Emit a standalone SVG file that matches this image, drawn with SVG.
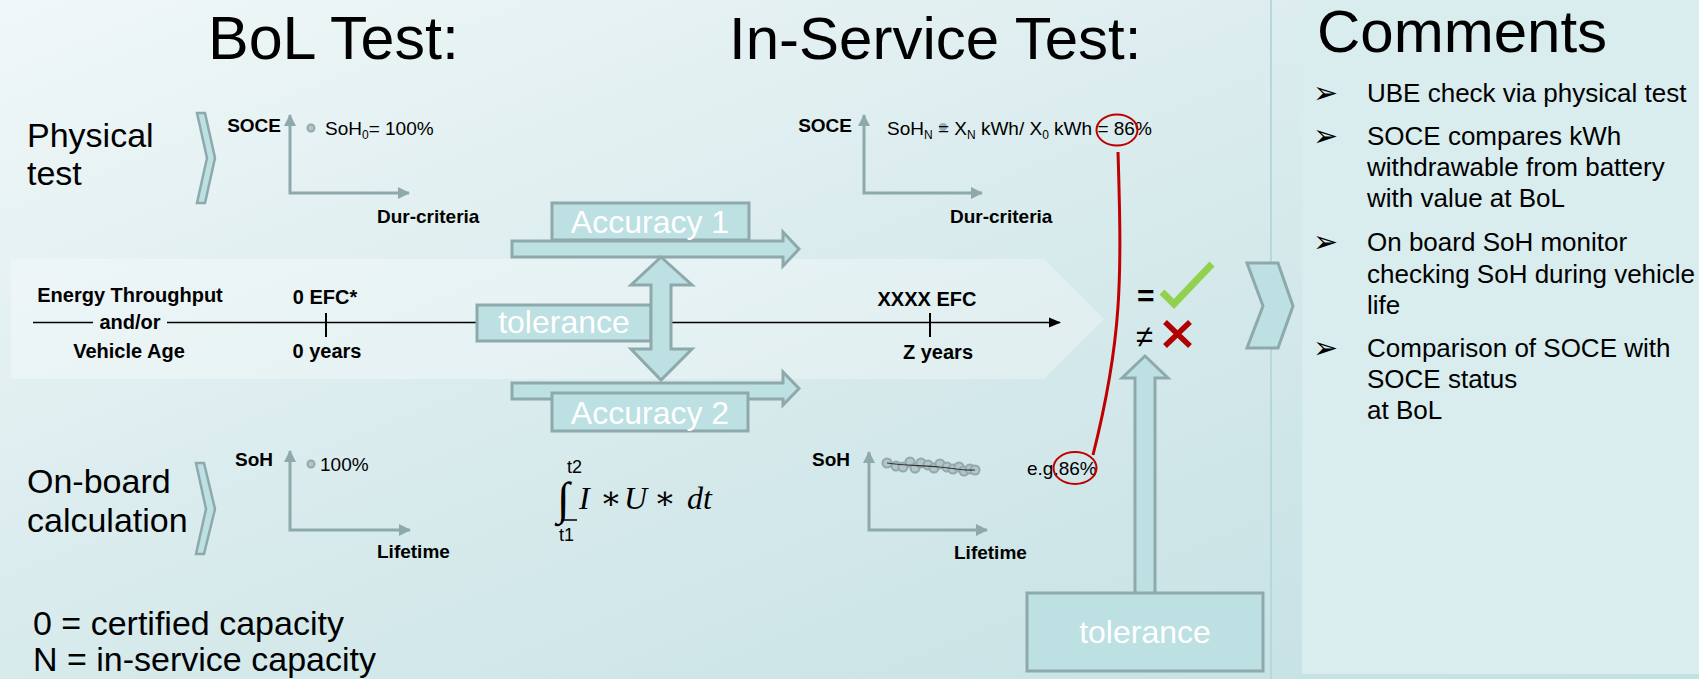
<svg xmlns="http://www.w3.org/2000/svg" width="1699" height="679" viewBox="0 0 1699 679">
<defs>
<linearGradient id="bg" x1="0" y1="0" x2="1" y2="1">
<stop offset="0" stop-color="#f0f7f8"/>
<stop offset="0.5" stop-color="#d7eaec"/>
<stop offset="1" stop-color="#c3e0e3"/>
</linearGradient>
<marker id="ga" markerUnits="userSpaceOnUse" markerWidth="12" markerHeight="12" viewBox="0 0 12 12" refX="11" refY="6" orient="auto-start-reverse">
<path d="M0,0 L12,6 L0,12 z" fill="#8ea9ac"/>
</marker>
<marker id="ka" markerUnits="userSpaceOnUse" markerWidth="12" markerHeight="12" viewBox="0 0 12 12" refX="11" refY="6" orient="auto">
<path d="M0,1 L12,6 L0,11 z" fill="#000"/>
</marker>
</defs>
<style>
text{font-family:"Liberation Sans",Arial,sans-serif;fill:#000}
.title{font-size:60px}
.lbl{font-size:34px}
.cap{font-size:34px}
.b{font-weight:bold;font-size:19px}
.tb{font-weight:bold;font-size:20px}
.s{font-size:19px}
.sub{font-size:12px}
.box{fill:#bde0e3;stroke:#8ea9ac;stroke-width:3}
.wt{fill:#fff;font-size:32px}
.axis{stroke:#8ea9ac;stroke-width:3;fill:none}
.com{font-size:26px}
.bul{font-family:"DejaVu Sans",sans-serif;font-size:30px}
.dot{fill:#b3c6c8;stroke:#93a9ab;stroke-width:2}
.red{stroke:#c00000;stroke-width:2;fill:none}
.math{font-family:"Liberation Serif","DejaVu Serif",serif;font-style:italic;font-size:32px}
</style>

<rect width="1699" height="679" fill="url(#bg)"/>
<rect x="1302" y="0" width="397" height="674" fill="#d9ecee"/>
<line x1="1271" y1="0" x2="1271" y2="679" stroke="#b6d8dc" stroke-width="2"/>

<!-- middle band -->
<polygon id="band" points="11,259 1044,259 1104,319 1044,379 11,379" fill="#ffffff" fill-opacity="0.3"/>

<g id="titles">
<text class="title" x="208" y="59" style="font-size:61px">BoL Test:</text>
<text class="title" x="729" y="59">In-Service Test:</text>
<text class="title" x="1317" y="52">Comments</text>
</g>

<g id="physical-test">
<text class="lbl" x="27" y="147">Physical</text>
<text class="lbl" x="27" y="185">test</text>
<polygon class="box" style="stroke-width:2.5" points="197,113 205,113 215,158 205,203 197,203 207,158"/>
</g>

<g id="onboard-calc">
<text class="lbl" x="27" y="493">On-board</text>
<text class="lbl" x="27" y="532">calculation</text>
<polygon class="box" style="stroke-width:2.5" points="196,463 204,463 215,509 204,554 196,554 206,509"/>
</g>

<g id="chart-bol-soce">
<path class="axis" d="M290,115 L290,193 L409,193" marker-start="url(#ga)" marker-end="url(#ga)"/>
<text class="b" x="281" y="132" text-anchor="end">SOCE</text>
<circle class="dot" cx="311" cy="128" r="3.5"/>
<text class="s" x="325" y="135">SoH<tspan class="sub" dy="4">0</tspan><tspan dy="-4">= 100%</tspan></text>
<text class="b" x="377" y="223">Dur-criteria</text>
</g>

<g id="chart-bol-soh">
<path class="axis" d="M290,451 L290,530 L410,530" marker-start="url(#ga)" marker-end="url(#ga)"/>
<text class="b" x="273" y="466" text-anchor="end">SoH</text>
<circle class="dot" cx="311" cy="464" r="3.5"/>
<text class="s" x="320" y="471">100%</text>
<text class="b" x="377" y="558">Lifetime</text>
</g>

<g id="chart-is-soce">
<path class="axis" d="M864,115 L864,193 L982,193" marker-start="url(#ga)" marker-end="url(#ga)"/>
<text class="b" x="852" y="132" text-anchor="end">SOCE</text>
<circle cx="943" cy="127" r="4" fill="#9aafb1"/>
<text class="s" x="887" y="135">SoH<tspan class="sub" dy="4">N</tspan><tspan dy="-4"> = X</tspan><tspan class="sub" dy="4">N</tspan><tspan dy="-4"> kWh/ X</tspan><tspan class="sub" dy="4">0</tspan><tspan dy="-4"> kWh = 86%</tspan></text>
<ellipse class="red" cx="1117" cy="130" rx="20.5" ry="15.5"/>
<text class="b" x="950" y="223">Dur-criteria</text>
</g>

<g id="chart-is-soh">
<path class="axis" d="M869,452 L869,530 L987,530" marker-start="url(#ga)" marker-end="url(#ga)"/>
<text class="b" x="850" y="466" text-anchor="end">SoH</text>
<g>
<circle class="dot" cx="887" cy="463" r="4.5"/>
<circle class="dot" cx="896" cy="466" r="4.5"/>
<circle class="dot" cx="903" cy="467" r="4.5"/>
<circle class="dot" cx="910" cy="462" r="4.5"/>
<circle class="dot" cx="915" cy="468" r="4.5"/>
<circle class="dot" cx="921" cy="463" r="4.5"/>
<circle class="dot" cx="928" cy="465" r="4.5"/>
<circle class="dot" cx="934" cy="468" r="4.5"/>
<circle class="dot" cx="940" cy="464" r="4.5"/>
<circle class="dot" cx="947" cy="467" r="4.5"/>
<circle class="dot" cx="953" cy="469" r="4.5"/>
<circle class="dot" cx="959" cy="467" r="4.5"/>
<circle class="dot" cx="964" cy="471" r="4.5"/>
<circle class="dot" cx="970" cy="469" r="4.5"/>
<circle class="dot" cx="975" cy="470" r="4.5"/>
</g>
<path d="M887,463 C905,466 920,465 940,467 C955,468 960,471 975,470" stroke="#333" stroke-width="1.2" fill="none"/>
<text class="b" x="954" y="559">Lifetime</text>
<text class="s" x="1027" y="475">e.g.86%</text>
<ellipse class="red" cx="1075" cy="468" rx="21.5" ry="16"/>
</g>

<g id="timeline">
<text class="tb" x="130" y="302" text-anchor="middle">Energy Throughput</text>
<text class="tb" x="130" y="329" text-anchor="middle">and/or</text>
<text class="tb" x="129" y="358" text-anchor="middle">Vehicle Age</text>
<text class="tb" x="325" y="304" text-anchor="middle">0 EFC*</text>
<text class="tb" x="327" y="358" text-anchor="middle">0 years</text>
<text class="tb" x="927" y="306" text-anchor="middle">XXXX EFC</text>
<text class="tb" x="938" y="359" text-anchor="middle">Z years</text>
</g>

<g id="connectors">
<line x1="33" y1="322.5" x2="93" y2="322.5" stroke="#000" stroke-width="1.6"/>
<line x1="167" y1="322.5" x2="1060" y2="322.5" stroke="#000" stroke-width="1.6" marker-end="url(#ka)"/>
<line x1="326" y1="313" x2="326" y2="337" stroke="#000" stroke-width="2"/>
<line x1="930" y1="313" x2="930" y2="337" stroke="#000" stroke-width="2"/>
<path class="red" style="stroke-width:3" d="M1118,152 C1122,280 1122,340 1093,455"/>
</g>

<g id="accuracy1">
<polygon class="box" points="512,241 783,241 783,232 799,249 783,266 783,257 512,257"/>
<rect class="box" x="552" y="203" width="197" height="37"/>
<text class="wt" x="650" y="233" text-anchor="middle">Accuracy 1</text>
</g>

<g id="accuracy2">
<polygon class="box" points="512,383 783,383 783,372 799,388.5 783,405 783,399 512,399"/>
<rect class="box" x="552" y="393" width="196" height="38"/>
<text class="wt" x="650" y="424" text-anchor="middle">Accuracy 2</text>
</g>

<g id="tolerance-mid">
<rect class="box" x="477" y="305" width="174" height="36"/>
<text class="wt" x="564" y="333" text-anchor="middle">tolerance</text>
<polygon class="box" points="661,257 692,285 671,285 671,349 692,349 661,380 631,349 651,349 651,285 631,285"/>
</g>

<g id="result">
<text x="1137" y="306" style="font-size:30px;font-weight:bold">=</text>
<polyline points="1162,292 1174,304 1212,264" fill="none" stroke="#92d050" stroke-width="7"/>
<text x="1136" y="347" style="font-size:31px">≠</text>
<path d="M1165,322 L1190,346 M1190,322 L1165,346" stroke="#b00000" stroke-width="5.5"/>
</g>

<g id="tolerance-bottom">
<polygon class="box" points="1145,356 1168,378 1155,378 1155,594 1135,594 1135,378 1122,378"/>
<rect class="box" x="1027" y="593" width="236" height="78"/>
<text class="wt" x="1145" y="643" text-anchor="middle">tolerance</text>
</g>

<g id="chevron-right">
<polygon class="box" points="1247,263 1278,263 1293,306 1278,348 1247,348 1263,306"/>
</g>

<g id="integral">
<text x="567" y="473" style="font-size:18px">t2</text>
<text x="557" y="514" style="font-family:'Liberation Serif','DejaVu Serif',serif;font-size:46px">∫</text>
<line x1="561" y1="520" x2="577" y2="520" stroke="#000" stroke-width="1.5"/>
<text x="559" y="541" style="font-size:18px">t1</text>
<text class="math" y="509"><tspan x="579">I</tspan><tspan x="600" style="font-style:normal">∗</tspan><tspan x="624">U</tspan><tspan x="654" style="font-style:normal">∗</tspan><tspan x="687">dt</tspan></text>
</g>

<g id="legend">
<text class="cap" x="33" y="635">0 = certified capacity</text>
<text class="cap" x="33" y="671">N = in-service capacity</text>
</g>

<g id="comments">
<text class="bul" x="1313" y="103">➢</text>
<text class="com" x="1367" y="102">UBE check via physical test</text>
<text class="bul" x="1313" y="146">➢</text>
<text class="com" x="1367" y="145">SOCE compares kWh</text>
<text class="com" x="1367" y="176">withdrawable from battery</text>
<text class="com" x="1367" y="207">with value at BoL</text>
<text class="bul" x="1313" y="252">➢</text>
<text class="com" x="1367" y="251">On board SoH monitor</text>
<text class="com" x="1367" y="283">checking SoH during vehicle</text>
<text class="com" x="1367" y="314">life</text>
<text class="bul" x="1313" y="358">➢</text>
<text class="com" x="1367" y="357">Comparison of SOCE with</text>
<text class="com" x="1367" y="388">SOCE status</text>
<text class="com" x="1367" y="419">at BoL</text>
</g>
</svg>
